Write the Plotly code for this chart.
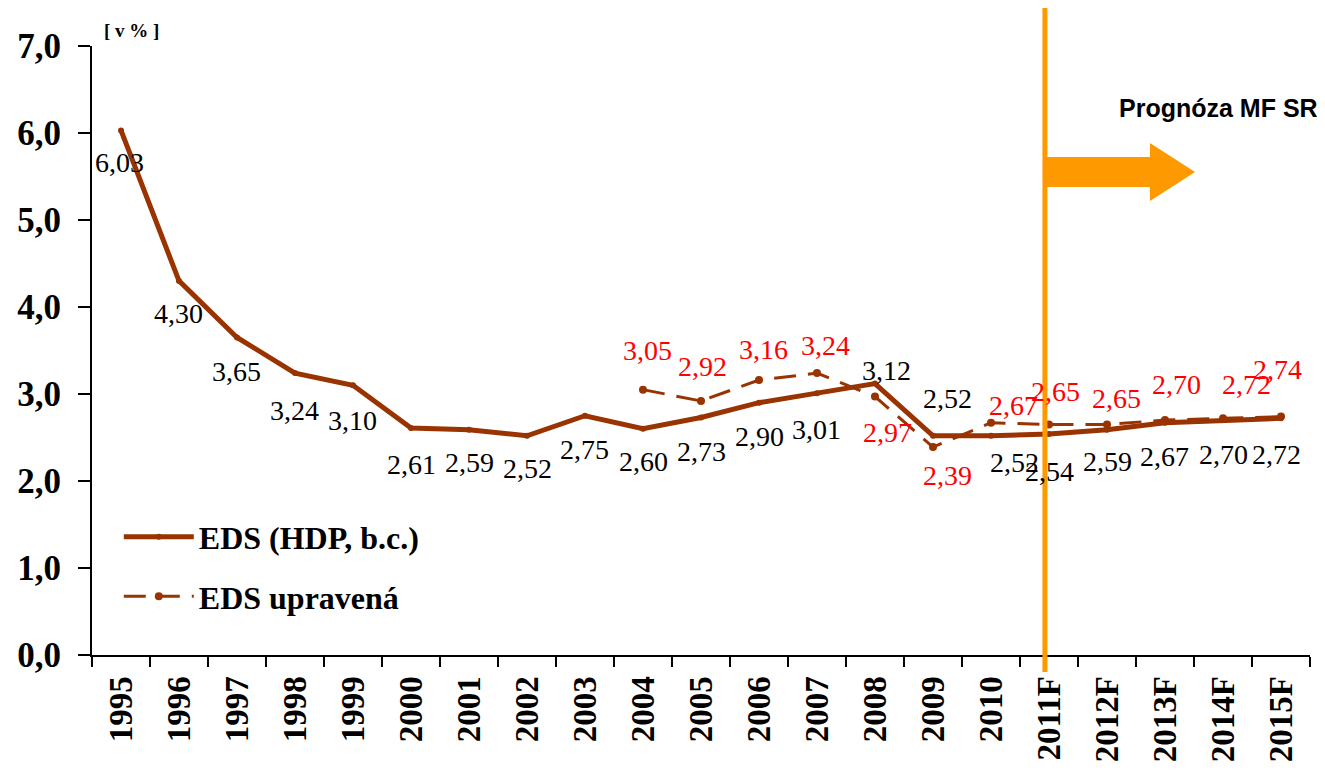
import plotly.graph_objects as go

years = ["1995", "1996", "1997", "1998", "1999", "2000", "2001", "2002", "2003", "2004",
         "2005", "2006", "2007", "2008", "2009", "2010", "2011F", "2012F", "2013F", "2014F", "2015F"]
eds_hdp = [6.03, 4.30, 3.65, 3.24, 3.10, 2.61, 2.59, 2.52, 2.75, 2.60,
           2.73, 2.90, 3.01, 3.12, 2.52, 2.52, 2.54, 2.59, 2.67, 2.70, 2.72]
years_upr = ["2004", "2005", "2006", "2007", "2008", "2009", "2010", "2011F", "2012F", "2013F", "2014F", "2015F"]
eds_upr = [3.05, 2.92, 3.16, 3.24, 2.97, 2.39, 2.67, 2.65, 2.65, 2.70, 2.72, 2.74]
y_ticks = [0, 1, 2, 3, 4, 5, 6, 7]
y_ticktext = ["0,0", "1,0", "2,0", "3,0", "4,0", "5,0", "6,0", "7,0"]

# label offsets in pixels (xshift, yshift)
off_hdp = [(-2, -32), (-1, -33), (-1, -34), (-1, -37), (-1, -35), (0, -37), (0, -33), (0, -33), (-1, -34), (0, -33),
           (0, -34), (0, -34), (-1, -36), (11, 13), (14, 37), (23, -27), (0, -37), (0, -32), (-1, -34), (0, -34), (-5, -36)]
off_upr = [(4, 39), (1, 34), (4, 31), (8, 28), (12, -36), (14, -28), (22, 17), (6, 33), (9, 26), (11, 36), (23, 34), (-4, 47)]

BROWN = "#993300"
SERIF = "Liberation Serif"

fig = go.Figure()
fig.add_trace(go.Scatter(
    x=years, y=eds_hdp, name="EDS (HDP, b.c.)", mode="lines+markers",
    line=dict(color=BROWN, width=5), marker=dict(color=BROWN, size=6),
    legendgroup="a"))
fig.add_trace(go.Scatter(
    x=years_upr, y=eds_upr, name="EDS upravená", mode="lines+markers",
    line=dict(color=BROWN, width=3, dash="22px,12px"), marker=dict(color=BROWN, size=8),
    legendgroup="b"))

ann = []
for x, v, (dx, dy) in zip(years, eds_hdp, off_hdp):
    ann.append(dict(x=years.index(x), y=v, xref="x", yref="y", text=f"{v:.2f}".replace(".", ","),
                    showarrow=False, xshift=dx, yshift=dy,
                    font=dict(family=SERIF, size=28, color="black")))
for x, v, (dx, dy) in zip(years_upr, eds_upr, off_upr):
    ann.append(dict(x=years.index(x), y=v, xref="x", yref="y", text=f"{v:.2f}".replace(".", ","),
                    showarrow=False, xshift=dx, yshift=dy,
                    font=dict(family=SERIF, size=28, color="#FF0000")))
ann.append(dict(x=1.008, y=0.898, xref="paper", yref="paper", text="<b>Prognóza MF SR</b>",
                showarrow=False, xanchor="right", yanchor="middle",
                font=dict(family="Liberation Sans", size=25, color="black")))
ann.append(dict(x=0.008, y=1.026, xref="paper", yref="paper", text="<b>[ v % ]</b>",
                showarrow=False, xanchor="left", yanchor="middle",
                font=dict(family=SERIF, size=19, color="black")))

ORANGE = "#FF9900"
shapes = [
    dict(type="line", xref="x", yref="paper", x0=years.index("2011F"), x1=years.index("2011F"),
         x0shift=-0.07, x1shift=-0.07,
         y0=-0.028, y1=1.072, line=dict(color=ORANGE, width=5), layer="above"),
    dict(type="path", xref="paper", yref="paper",
         path="M 0.7824,0.7685 L 0.8686,0.7685 L 0.8686,0.7455 L 0.9056,0.7931 L 0.8686,0.8407 L 0.8686,0.8177 L 0.7824,0.8177 Z",
         fillcolor=ORANGE, line=dict(width=0)),
]

fig.update_layout(
    width=1325, height=770,
    margin=dict(l=84, r=23, t=38, b=123),
    plot_bgcolor="white", paper_bgcolor="white",
    showlegend=True,
    legend=dict(x=0.022, y=0.239, xanchor="left", yanchor="top", bgcolor="rgba(0,0,0,0)",
                font=dict(family=SERIF, size=32, color="black", weight="bold"),
                itemwidth=70, traceorder="grouped", tracegroupgap=15),
    annotations=ann, shapes=shapes,
    xaxis=dict(type="category", categoryorder="array", categoryarray=years,
               showline=True, linecolor="black", linewidth=2, showgrid=False, automargin=False,
               ticks="outside", tickson="boundaries", ticklen=10, tickwidth=2, tickcolor="black",
               ticklabelstandoff=6,
               tickangle=-90, tickfont=dict(family=SERIF, size=33, color="black", weight="bold"),
               range=[-0.5, 20.5]),
    yaxis=dict(range=[0, 7], tickvals=y_ticks, ticktext=y_ticktext, automargin=False,
               showline=True, linecolor="black", linewidth=2, showgrid=False, zeroline=False,
               ticks="outside", ticklen=12, tickwidth=2, tickcolor="black", ticklabelstandoff=10,
               tickfont=dict(family=SERIF, size=35, color="black", weight="bold")),
)

fig.write_html("out.html")
